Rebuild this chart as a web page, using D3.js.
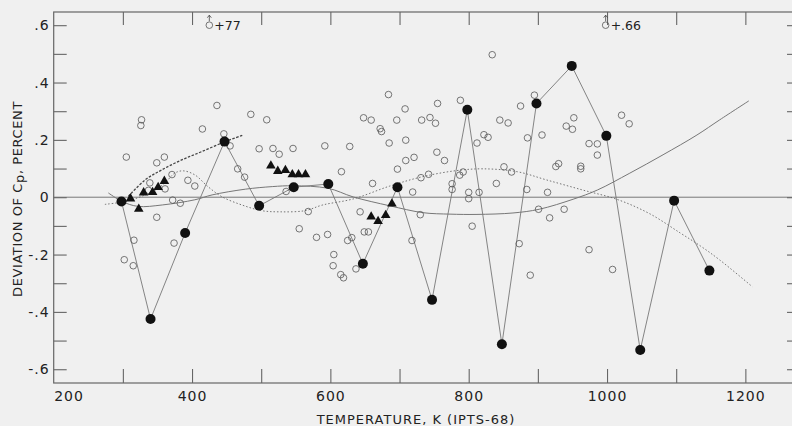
<!DOCTYPE html>
<html lang="en">
<head>
<meta charset="utf-8">
<script src="https://d3js.org/d3.v7.min.js"></script>
<style>
	body { margin: 0; background: #f0f0f0; }
	text { font-family: "DejaVu Sans", sans-serif; fill: #222; }
</style>
</head>
<body>
<script type="text/javascript">

	var svgWidth = 792;
	var svgHeight = 426;

	// filled circles, joined in order by a thin line
	var filledPts = [[298,-0.015],[340,-0.425],[390,-0.125],[447,0.194],[497,-0.030],[547,0.035],
		[597,0.046],[647,-0.232],[697,0.035],[747,-0.358],[798,0.305],[848,-0.513],[898,0.327],
		[949,0.458],[999,0.214],[1048,-0.533],[1097,-0.012],[1148,-0.256]];

	// filled triangles
	var trianglePts = [[311,-0.005],[323,-0.041],[330,0.016],[343,0.017],[351,0.035],[360,0.056],
		[514,0.110],[524,0.091],[535,0.094],[545,0.079],[554,0.079],[564,0.079],
		[659,-0.068],[669,-0.084],[680,-0.063],[689,-0.023]];

	// open circles
	var openPts = [[302,-0.218],[305,0.140],[315,-0.239],[316,-0.150],[326,0.250],[327,0.270],[339,0.050],
		[337,0.024],[349,0.120],[349,-0.070],[360,0.140],[361,0.029],[371,0.079],[372,-0.010],[374,-0.160],
		[383,-0.021],[394,0.059],[404,0.039],[415,0.238],[436,0.320],[446,0.221],[455,0.179],[466,0.099],
		[476,0.070],[485,0.289],[497,0.169],[508,0.270],[517,0.170],[526,0.150],[536,0.020],[546,0.170],
		[555,-0.110],[568,-0.050],[580,-0.140],[592,0.179],[596,-0.130],[605,-0.200],[604,-0.239],
		[615,-0.270],[619,-0.281],[616,0.089],[625,-0.151],[628,0.177],[631,-0.141],[637,-0.250],
		[643,-0.051],[648,0.277],[649,-0.121],[655,-0.121],[659,0.269],[661,0.048],[672,0.239],[674,0.229],
		[684,0.358],[685,0.189],[696,0.269],[697,0.098],[708,0.308],[709,0.199],[709,0.128],[719,0.018],
		[718,-0.151],[721,0.139],[730,-0.061],[732,0.269],[731,0.068],[742,0.080],[744,0.278],[752,0.258],
		[755,0.327],[754,0.157],[765,0.128],[776,0.047],[776,0.027],[787,0.077],[788,0.338],[792,0.088],
		[800,0.017],[800,-0.005],[805,-0.101],[812,0.189],[815,0.017],[822,0.218],[828,0.209],[834,0.497],
		[840,0.048],[845,0.269],[851,0.106],[857,0.259],[862,0.088],[873,-0.162],[875,0.318],[884,0.027],
		[885,0.207],[889,-0.272],[895,0.356],[901,-0.042],[906,0.217],[914,0.017],[917,-0.072],[926,0.107],
		[930,0.117],[938,-0.042],[941,0.248],[950,0.237],[952,0.277],[962,0.108],[962,0.099],[974,0.187],
		[974,-0.183],[986,0.186],[986,0.147],[1008,-0.252],[1021,0.286],[1032,0.256]];

	// off-scale points, drawn at the top edge with their value
	var offscalePts = [[425,0.60,"+77"],[998,0.60,"+.66"]];

	// smooth curves
	var solidCurve = [[279,0.015],[299,-0.015],[322,-0.032],[357,-0.027],[404,-0.009],[429,0.008],
		[477,0.028],[516,0.037],[546,0.040],[597,0.031],[633,0.001],[686,-0.030],[734,-0.054],[773,-0.059],
		[812,-0.060],[864,-0.055],[902,-0.042],[951,-0.007],[986,0.025],[1033,0.084],[1081,0.148],
		[1130,0.217],[1163,0.270],[1205,0.336]];
	var dottedCurve = [[274,-0.025],[303,-0.015],[325,0.001],[347,0.025],[361,0.050],[375,0.084],
		[387,0.092],[404,0.078],[423,0.037],[443,0.002],[472,-0.027],[501,-0.047],[527,-0.051],
		[563,-0.047],[589,-0.027],[633,-0.006],[686,0.039],[734,0.072],[783,0.093],[821,0.099],
		[870,0.089],[913,0.060],[965,0.025],[1015,-0.008],[1062,-0.058],[1106,-0.125],[1135,-0.170],
		[1163,-0.219],[1210,-0.312]];
	var dashedCurve = [[308,0.003],[332,0.060],[356,0.095],[385,0.130],[414,0.159],[448,0.194],[474,0.217]];

	// ticks
	var xTicks = [300,400,500,600,700,800,900,1000,1100,1200];
	var xLabels = [200,400,600,800,1000,1200];
	var yTicks = [-0.6,-0.5,-0.4,-0.3,-0.2,-0.1,0,0.1,0.2,0.3,0.4,0.5,0.6];
	var yLabels = [-0.6,-0.4,-0.2,0,0.2,0.4,0.6];

	var svg = d3.select("body")
		.append("svg")
		.attr("width", svgWidth)
		.attr("height", svgHeight);

	svg.append("rect")
		.attr("width", svgWidth)
		.attr("height", svgHeight)
		.attr("fill", "#f0f0f0");

	var x = d3.scaleLinear().domain([200, 1279]).range([53.7, 800]);
	var y = d3.scaleLinear().domain([-0.648, 0.646]).range([383, 12]);

	var lineColor = "#666";

	// frame
	svg.append("rect")
		.attr("x", x(200))
		.attr("y", y(0.646))
		.attr("width", x(1279) - x(200))
		.attr("height", y(-0.648) - y(0.646))
		.attr("fill", "none")
		.attr("stroke", lineColor)
		.attr("stroke-width", 1.2);

	// zero line
	svg.append("line")
		.attr("x1", x(200)).attr("x2", x(1279))
		.attr("y1", y(0)).attr("y2", y(0))
		.attr("stroke", "#777")
		.attr("stroke-width", 1);

	function yFmt(d) {
		if (d === 0) return "0";
		return d3.format(".1f")(d).replace("0.", ".").replace("−", "-");
	}

	// inward ticks on all four sides
	var gBottom = svg.append("g")
		.attr("transform", "translate(0," + y(-0.648) + ")")
		.call(d3.axisBottom(x).tickValues(xTicks).tickSize(-14).tickFormat(""));
	var gBottomLab = svg.append("g")
		.attr("transform", "translate(0," + y(-0.648) + ")")
		.call(d3.axisBottom(x).tickValues(xLabels).tickSize(0).tickPadding(8).tickFormat(d3.format("d")));
	var gTop = svg.append("g")
		.attr("transform", "translate(0," + y(0.646) + ")")
		.call(d3.axisTop(x).tickValues(xTicks).tickSize(-13).tickFormat(""));
	var gLeft = svg.append("g")
		.attr("transform", "translate(" + x(200) + ",0)")
		.call(d3.axisLeft(y).tickValues(yTicks).tickSize(-13).tickFormat(""));
	var gLeftLab = svg.append("g")
		.attr("transform", "translate(" + x(200) + ",0)")
		.call(d3.axisLeft(y).tickValues(yLabels).tickSize(0).tickPadding(4).tickFormat(yFmt));
	var gRight = svg.append("g")
		.attr("transform", "translate(" + x(1279) + ",0)")
		.call(d3.axisRight(y).tickValues(yTicks).tickSize(-13).tickFormat(""));

	[gBottom, gBottomLab, gTop, gLeft, gLeftLab, gRight].forEach(function(g) {
		g.select(".domain").remove();
		g.selectAll("line").attr("stroke", lineColor).attr("stroke-width", 1.1);
		g.selectAll("text")
			.attr("fill", "#222")
			.style("font-family", "DejaVu Sans, sans-serif")
			.style("font-size", "14px")
			.style("letter-spacing", "1px");
	});
	gBottomLab.selectAll("text").filter(function(d) { return d === 200; })
		.attr("text-anchor", "start");

	// curves
	var curveLine = d3.line()
		.x(function(d) { return x(d[0]); })
		.y(function(d) { return y(d[1]); })
		.curve(d3.curveCatmullRom);

	svg.append("path")
		.attr("d", curveLine(solidCurve))
		.attr("fill", "none")
		.attr("stroke", "#777")
		.attr("stroke-width", 1);

	svg.append("path")
		.attr("d", curveLine(dottedCurve))
		.attr("fill", "none")
		.attr("stroke", "#666")
		.attr("stroke-width", 0.9)
		.attr("stroke-dasharray", "1.5,2");

	svg.append("path")
		.attr("d", curveLine(dashedCurve))
		.attr("fill", "none")
		.attr("stroke", "#444")
		.attr("stroke-width", 1.3)
		.attr("stroke-dasharray", "2.5,1.5");

	// line through the filled circles
	var straight = d3.line()
		.x(function(d) { return x(d[0]); })
		.y(function(d) { return y(d[1]); });

	svg.append("path")
		.attr("d", straight(filledPts))
		.attr("fill", "none")
		.attr("stroke", "#777")
		.attr("stroke-width", 0.9);

	// open circles
	svg.selectAll("circle.open")
		.data(openPts)
		.enter()
		.append("circle")
			.attr("class", "open")
			.attr("cx", function(d) { return x(d[0]); })
			.attr("cy", function(d) { return y(d[1]); })
			.attr("r", 3.3)
			.attr("fill", "none")
			.attr("stroke", "#555")
			.attr("stroke-width", 0.8);

	// off-scale points
	var off = svg.selectAll("g.off")
		.data(offscalePts)
		.enter()
		.append("g")
			.attr("class", "off")
			.attr("transform", function(d) { return "translate(" + x(d[0]) + "," + y(d[1]) + ")"; });
	off.append("circle")
		.attr("r", 3.3)
		.attr("fill", "none")
		.attr("stroke", "#555")
		.attr("stroke-width", 0.8);
	off.append("path")
		.attr("d", "M0,-4V-10M-2,-7.5L0,-10L2,-7.5")
		.attr("fill", "none")
		.attr("stroke", "#444")
		.attr("stroke-width", 0.8);
	off.append("text")
		.attr("x", 5)
		.attr("y", 4.5)
		.style("font-size", "12.5px")
		.text(function(d) { return d[2]; });

	// triangles
	svg.selectAll("path.tri")
		.data(trianglePts)
		.enter()
		.append("path")
			.attr("class", "tri")
			.attr("d", d3.symbol(d3.symbolTriangle, 40))
			.attr("transform", function(d) { return "translate(" + x(d[0]) + "," + y(d[1]) + ")"; })
			.attr("fill", "#111");

	// filled circles
	svg.selectAll("circle.filled")
		.data(filledPts)
		.enter()
		.append("circle")
			.attr("class", "filled")
			.attr("cx", function(d) { return x(d[0]); })
			.attr("cy", function(d) { return y(d[1]); })
			.attr("r", 5)
			.attr("fill", "#111");

	// axis titles
	svg.append("text")
		.attr("x", 416)
		.attr("y", 424)
		.attr("text-anchor", "middle")
		.style("font-size", "13px")
		.style("letter-spacing", "1px")
		.text("TEMPERATURE, K (IPTS-68)");

	var yTitle = svg.append("text")
		.attr("transform", "translate(22,199) rotate(-90)")
		.attr("text-anchor", "middle")
		.style("font-size", "13px")
		.style("letter-spacing", "0.6px");
	yTitle.append("tspan").text("DEVIATION OF C");
	yTitle.append("tspan").attr("dy", 2).text("p");
	yTitle.append("tspan").attr("dy", -2).text(", PERCENT");

</script>
</body>
</html>
